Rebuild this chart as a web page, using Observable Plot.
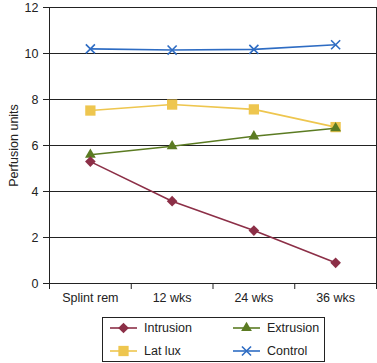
<!DOCTYPE html>
<html><head>
<meta charset="utf-8">
<script src="https://cdn.jsdelivr.net/npm/d3@7"></script>
<script src="https://cdn.jsdelivr.net/npm/@observablehq/plot@0.6"></script>
<style>
body{margin:0;background:#fff;font-family:"Liberation Sans",Arial,sans-serif;}
#legend{position:absolute;left:102px;top:317px;width:223px;height:45px;border:1px solid #222;box-sizing:border-box;font-size:12.5px;color:#222;}
.item{position:absolute;display:flex;align-items:center;}
.item svg{margin-right:7px;}
</style>
</head><body>
<div id="chart"></div>
<div id="legend"></div>
<script>
const categories = ["Splint rem", "12 wks", "24 wks", "36 wks"];
const intrusion = [5.3, 3.58, 2.3, 0.9];
const extrusion = [5.6, 5.97, 6.4, 6.75];
const latLux = [7.52, 7.78, 7.57, 6.8];
const control = [10.2, 10.15, 10.18, 10.38];
const yTicks = [0, 2, 4, 6, 8, 10, 12];
const seriesNames = ["Intrusion", "Extrusion", "Lat lux", "Control"];
const seriesColors = ["#8C2F47", "#5B7B22", "#EEC64F", "#2E6CC3"];
const seriesSymbols = ["diamond2", "triangle", "square", "times"];
const seriesR = [4.8, 4.0, 5.8, 4.2];
const seriesValues = [intrusion, extrusion, latLux, control];

const idx = categories.map((_, i) => i);
const bounds = [-0.5, 0.5, 1.5, 2.5, 3.5];

const order = [3, 2, 1, 0];
const marks = [
  Plot.ruleY(yTicks, {stroke: "#222", strokeWidth: 1}),
  Plot.frame({stroke: "#222"}),
  Plot.axisY({ticks: yTicks, tickSize: 6, tickPadding: 5, label: "Perfusion units", labelAnchor: "center", labelArrow: "none", labelOffset: 40, stroke: "#222"}),
  Plot.axisX({ticks: bounds, tickSize: 6, tickFormat: () => "", label: null, stroke: "#222"}),
  Plot.axisX({ticks: idx, tickSize: 0, tickPadding: 10, tickFormat: i => categories[i], label: null})
];
for (const s of order) {
  const data = idx.map(i => ({x: i, y: seriesValues[s][i]}));
  marks.push(Plot.line(data, {x: "x", y: "y", stroke: seriesColors[s], strokeWidth: 1.6}));
  const stroked = seriesSymbols[s] === "times";
  marks.push(Plot.dot(data, {x: "x", y: "y", symbol: seriesSymbols[s], r: seriesR[s],
    fill: stroked ? "none" : seriesColors[s], stroke: stroked ? seriesColors[s] : "none", strokeWidth: 1.6}));
}

const chart = Plot.plot({
  width: 377,
  height: 310,
  marginTop: 7,
  marginLeft: 49,
  marginRight: 1,
  marginBottom: 27,
  style: {fontFamily: "'Liberation Sans', Arial, sans-serif", fontSize: "12.5px", color: "#222", background: "#fff"},
  x: {domain: [-0.5, 3.5], axis: null},
  y: {domain: [0, 12], axis: null},
  marks
});
document.getElementById("chart").appendChild(chart);

// legend
const legend = document.getElementById("legend");
const pos = [[0, 0], [1, 0], [0, 1], [1, 1]];
const symMap = {diamond2: d3.symbolDiamond2, triangle: d3.symbolTriangle, square: d3.symbolSquare, times: d3.symbolTimes};
seriesNames.forEach((name, s) => {
  const [c, r] = pos[s];
  const div = document.createElement("div");
  div.className = "item";
  div.style.left = (c === 0 ? 7 : 130) + "px";
  div.style.top = (r === 0 ? 3 : 26) + "px";
  const size = Math.PI * seriesR[s] * seriesR[s];
  const path = d3.symbol(symMap[seriesSymbols[s]], size)();
  const stroked = seriesSymbols[s] === "times";
  div.innerHTML = `<svg width="27" height="14"><line x1="0" x2="27" y1="7" y2="7" stroke="${seriesColors[s]}" stroke-width="1.6"/>` +
    `<path transform="translate(13.5,7)" d="${path}" fill="${stroked ? "none" : seriesColors[s]}" stroke="${stroked ? seriesColors[s] : "none"}" stroke-width="1.6"/></svg><span>${name}</span>`;
  legend.appendChild(div);
});
</script>
</body></html>
